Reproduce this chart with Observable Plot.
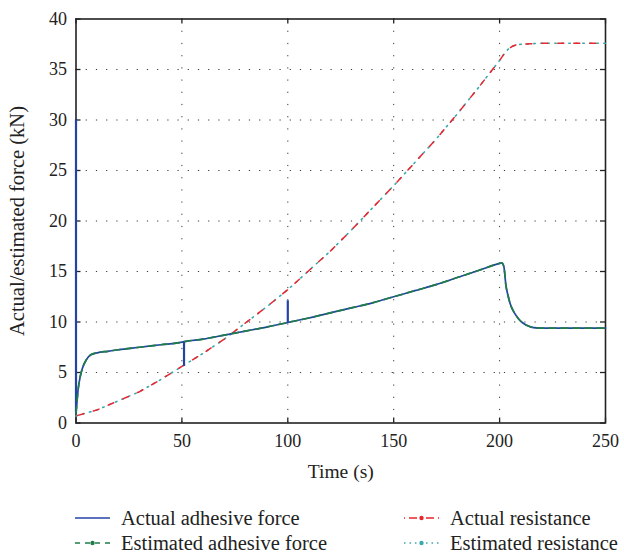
<!DOCTYPE html>
<html>
<head>
<meta charset="utf-8">
<script src="https://cdn.jsdelivr.net/npm/d3@7"></script>
<script src="https://cdn.jsdelivr.net/npm/@observablehq/plot@0.6"></script>
<style>
  body { margin: 0; background: #fff; font-family: "Liberation Serif", "DejaVu Serif", serif; }
  #chart { width: 624px; }
  #legend { position: relative; width: 624px; height: 66px; font-size: 20.5px; color: #222; }
  .item { position: absolute; display: flex; align-items: center; white-space: nowrap; }
  .item svg { margin-right: 11px; }
</style>
</head>
<body>
<div id="chart"></div>
<div id="legend"></div>
<script>
// ---- data ----
const adhTime = [0,0.5,1,2,3,5,7,10,15,20,30,40,50,51,60,70,80,90,100,110,120,130,140,150,160,170,180,190,200,201,202,203,204,205,207,209,211,213,216,220,250];
const adhForce = [1.0,2.2,3.3,4.6,5.4,6.3,6.75,6.95,7.1,7.25,7.5,7.75,8.0,8.05,8.3,8.7,9.1,9.5,9.95,10.4,10.9,11.4,11.9,12.5,13.1,13.7,14.4,15.1,15.8,15.85,15.5,13.6,12.6,11.8,10.9,10.3,9.9,9.65,9.45,9.4,9.4];
// spikes in the actual adhesive force
const spikeTime = [0, 51, 100];
const spikeFrom = [1.0, 8.05, 9.95];
const spikeTo = [30, 5.6, 12.1];

const resTime = [0,10,20,30,40,50,60,70,80,90,100,110,120,130,140,150,160,170,180,190,200,202,204,206,208,210,215,220,250];
const resForce = [0.7,1.3,2.2,3.1,4.3,5.6,6.9,8.3,9.9,11.5,13.2,15.1,17.0,19.1,21.3,23.5,25.8,28.1,30.6,33.2,35.9,36.5,37.0,37.3,37.45,37.5,37.55,37.6,37.6];

const xTicks = [0,50,100,150,200,250];
const yTicks = [0,5,10,15,20,25,30,35,40];

const xLabel = "Time (s)";
const yLabel = "Actual/estimated force (kN)";
const seriesNames = ["Actual adhesive force","Estimated adhesive force","Actual resistance","Estimated resistance"];
const colors = ["#2443a6","#1f7d4a","#e8262e","#3aa9ad"];

// ---- tables ----
const adh = adhTime.map((t,i) => ({t, v: adhForce[i]}));
const res = resTime.map((t,i) => ({t, v: resForce[i]}));
const spikes = spikeTime.map((t,i) => ({t, y1: spikeFrom[i], y2: spikeTo[i]}));

const W = 624, H = 490, mL = 75.5, mR = 19, mT = 18.5, mB = 67.5;
const pw = W - mL - mR, ph = H - mT - mB;

const chart = Plot.plot({
  width: W, height: H,
  marginLeft: mL, marginRight: mR, marginTop: mT, marginBottom: mB,
  style: {fontFamily: "Liberation Serif, serif", fontSize: "18px", color: "#222", background: "#fff"},
  x: {domain: [0, 250]},
  y: {domain: [0, 40]},
  marks: [
    Plot.gridX(xTicks.slice(1, -1), {stroke: "#222", strokeOpacity: 0.9, strokeDasharray: "1.2,11"}),
    Plot.gridY(yTicks.slice(1, -1), {stroke: "#222", strokeOpacity: 0.9, strokeDasharray: "1.2,9"}),
    Plot.axisX(xTicks, {tickSize: 0, tickPadding: 11, label: null, fontSize: 18}),
    Plot.axisY(yTicks, {tickSize: 0, tickPadding: 9, label: null, fontSize: 18}),
    Plot.text([xLabel], {frameAnchor: "bottom", textAnchor: "middle", lineAnchor: "middle", dy: 49, fontSize: 19.5, fill: "#222"}),
    Plot.text([yLabel], {frameAnchor: "left", textAnchor: "middle", lineAnchor: "middle", rotate: -90, dx: -59, fontSize: 20.5, fill: "#222"}),
    // inward ticks on all four sides
    Plot.tickX(xTicks, {x: d => d, insetTop: ph - 5, stroke: "#222", strokeWidth: 1.3}),
    Plot.tickX(xTicks, {x: d => d, insetBottom: ph - 5, stroke: "#222", strokeWidth: 1.3}),
    Plot.tickY(yTicks, {y: d => d, insetRight: pw - 5, stroke: "#222", strokeWidth: 1.3}),
    Plot.tickY(yTicks, {y: d => d, insetLeft: pw - 5, stroke: "#222", strokeWidth: 1.3}),
    Plot.frame({stroke: "#222", strokeWidth: 1.6}),
    // resistance
    Plot.line(res, {x: "t", y: "v", stroke: colors[3], strokeWidth: 1.6, strokeDasharray: "1.5,5.5"}),
    Plot.line(res, {x: "t", y: "v", stroke: colors[2], strokeWidth: 1.5, strokeDasharray: "6,10", strokeDashoffset: -2}),
    // adhesive force
    Plot.line(adh, {x: "t", y: "v", stroke: colors[0], strokeWidth: 1.7, curve: "monotone-x"}),
    Plot.ruleX(spikes, {x: "t", y1: "y1", y2: "y2", stroke: colors[0], strokeWidth: 2.2}),
    Plot.line(adh, {x: "t", y: "v", stroke: colors[1], strokeWidth: 1.7, strokeDasharray: "7,5", curve: "monotone-x"})
  ]
});
document.getElementById("chart").appendChild(chart);

// ---- legend ----
const legend = document.getElementById("legend");
const positions = [[75, 28],[75, 53],[404, 28],[404, 53]];
const dashes = ["", "5,5", "1,4,8,4", "1.5,4"];
seriesNames.forEach((name, i) => {
  const div = document.createElement("div");
  div.className = "item";
  div.style.left = positions[i][0] + "px";
  div.style.top = (positions[i][1] - 12) + "px";
  div.style.height = "24px";
  const marker = i === 0 ? "" : `<circle cx="17.5" cy="12" r="2.2" fill="${colors[i]}"/>`;
  div.innerHTML = `<svg width="35" height="24"><line x1="0" x2="35" y1="12" y2="12" stroke="${colors[i]}" stroke-width="1.5" ${dashes[i] ? `stroke-dasharray="${dashes[i]}"` : ""}/>${marker}</svg><span>${name}</span>`;
  legend.appendChild(div);
});
</script>
</body>
</html>
